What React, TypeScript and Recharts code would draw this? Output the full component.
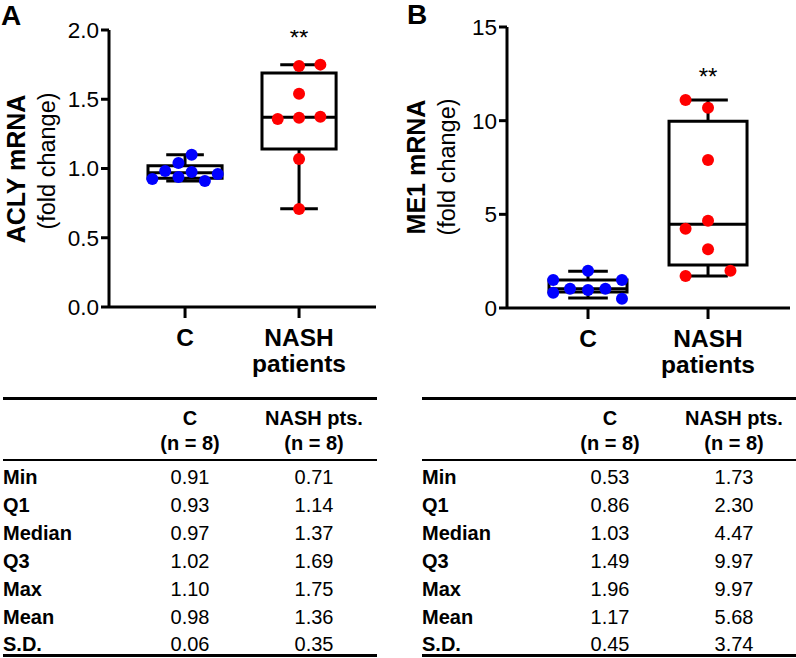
import React from 'react';
import { ComposedChart, XAxis, YAxis, Scatter, ReferenceArea, ReferenceLine } from 'recharts';

const FONT = '"Liberation Sans", Arial, Helvetica, sans-serif';

// ---------- data ----------
const categories = ['C', 'NASH patients'];

// Panel A – ACLY mRNA (fold change)
const aclyCValues = [0.924, 0.982, 1.04, 0.939, 1.10, 0.975, 0.91, 0.96];
const aclyCJitter = [-0.287, -0.174, -0.058, -0.058, 0.058, 0.058, 0.174, 0.287];
const aclyNValues = [1.74, 1.75, 1.54, 1.357, 1.367, 1.374, 1.069, 0.708];
const aclyNJitter = [0, 0.187, 0, -0.187, 0, 0.187, 0, 0];
const aclyBoxC = [0.91, 0.93, 0.97, 1.02, 1.10]; // min, q1, median, q3, max
const aclyBoxN = [0.71, 1.14, 1.37, 1.69, 1.75];
const aclyTicks = [0, 0.5, 1, 1.5, 2];
const aclySig = 1.98;

// Panel B – ME1 mRNA (fold change)
const me1CValues = [1.49, 0.82, 1.03, 1.99, 0.96, 1.03, 1.49, 0.5];
const me1CJitter = [-0.29, -0.29, -0.15, 0, 0, 0.145, 0.283, 0.283];
const me1NValues = [11.1, 10.69, 7.9, 4.66, 4.23, 3.13, 1.99, 1.71];
const me1NJitter = [-0.187, 0, 0, 0, -0.187, 0, 0.187, -0.187];
const me1BoxC = [0.53, 0.86, 1.03, 1.49, 1.96];
const me1BoxN = [1.71, 2.3, 4.47, 9.97, 11.1];
const me1Ticks = [0, 5, 10, 15];
const me1Sig = 12.6;

// Tables
const tableHeaderC = ['C', '(n = 8)'];
const tableHeaderN = ['NASH pts.', '(n = 8)'];
const tableRowLabels = ['Min', 'Q1', 'Median', 'Q3', 'Max', 'Mean', 'S.D.'];
const aclyTableC = ['0.91', '0.93', '0.97', '1.02', '1.10', '0.98', '0.06'];
const aclyTableN = ['0.71', '1.14', '1.37', '1.69', '1.75', '1.36', '0.35'];
const me1TableC = ['0.53', '0.86', '1.03', '1.49', '1.96', '1.17', '0.45'];
const me1TableN = ['1.73', '2.30', '4.47', '9.97', '9.97', '5.68', '3.74'];

// ---------- helpers ----------
const toPoints = (values: number[], jitter: number[], pos: number) =>
  values.map((v, i) => ({ x: pos + jitter[i], y: v }));

const BOX_HALF = 0.325;
const CAP_HALF = 0.165;
const LINE = { stroke: '#000', strokeWidth: 3 };

function renderBox(pos: number, box: number[], key: string) {
  const [mn, q1, med, q3, mx] = box;
  return [
    <ReferenceArea key={key + 'a'} x1={pos - BOX_HALF} x2={pos + BOX_HALF} y1={q1} y2={q3}
      fill="none" fillOpacity={0} stroke="#000" strokeWidth={3} ifOverflow="visible" />,
    <ReferenceLine key={key + 'm'} segment={[{ x: pos - BOX_HALF, y: med }, { x: pos + BOX_HALF, y: med }]} {...LINE} ifOverflow="visible" />,
    <ReferenceLine key={key + 'wu'} segment={[{ x: pos, y: q3 }, { x: pos, y: mx }]} {...LINE} ifOverflow="visible" />,
    <ReferenceLine key={key + 'cu'} segment={[{ x: pos - CAP_HALF, y: mx }, { x: pos + CAP_HALF, y: mx }]} {...LINE} ifOverflow="visible" />,
    <ReferenceLine key={key + 'wd'} segment={[{ x: pos, y: mn }, { x: pos, y: q1 }]} {...LINE} ifOverflow="visible" />,
    <ReferenceLine key={key + 'cd'} segment={[{ x: pos - CAP_HALF, y: mn }, { x: pos + CAP_HALF, y: mn }]} {...LINE} ifOverflow="visible" />,
  ];
}

const dotShape = (color: string) => (props: any) =>
  <circle cx={props.cx} cy={props.cy} r={6} fill={color} />;

const sigShape = (props: any) => (
  <text x={props.cx} y={props.cy + 13} textAnchor="middle" fontSize={24} fontFamily={FONT} fill="#000">**</text>
);

const XTick = (props: any) => {
  const { x, y, payload } = props;
  const label = categories[Math.round(payload.value) - 1] || '';
  const words = label === 'C' ? ['C'] : ['NASH', 'patients'];
  return (
    <g>
      {words.map((w, i) => (
        <text key={i} x={x} y={y + 26 + i * 26} textAnchor="middle" fontSize={24.5} fontWeight="bold" fontFamily={FONT} fill="#000">{w}</text>
      ))}
    </g>
  );
};

const AxisTitle = ({ bold, regular, boldY, regY }: any) => (
  <g>
    <text transform={`translate(25,${boldY}) rotate(-90)`} textAnchor="middle" fontSize={25} fontWeight="bold" fontFamily={FONT} fill="#000">{bold}</text>
    <text transform={`translate(55,${regY}) rotate(-90)`} textAnchor="middle" fontSize={23.5} fontFamily={FONT} fill="#000">{regular}</text>
  </g>
);

type PanelProps = {
  left: number; width: number; yWidth: number; top: number; bottom: number; right: number;
  xDomain: number[]; yDomain: number[]; ticks: number[]; fmt: (v: number) => string;
  cVals: number[]; cJit: number[]; nVals: number[]; nJit: number[];
  boxC: number[]; boxN: number[]; sig: number; bold: string; boldY: number; regY: number;
};

function Panel(p: PanelProps) {
  const H = 390;
  return (
    <div style={{ position: 'absolute', left: p.left, top: 0 }}>
      <ComposedChart width={p.width} height={H} margin={{ top: p.top, right: p.right, bottom: p.bottom, left: 0 }}>
        <XAxis dataKey="x" type="number" domain={p.xDomain} ticks={[1, 2]} allowDataOverflow
          height={60} tickSize={11} tick={<XTick />} axisLine={LINE} tickLine={LINE} />
        <YAxis dataKey="y" type="number" domain={p.yDomain} ticks={p.ticks} width={p.yWidth} allowDataOverflow
          tickFormatter={p.fmt} tickSize={8} axisLine={LINE} tickLine={LINE}
          tick={{ fill: '#000', fontSize: 22.5, fontFamily: FONT }}
          label={<AxisTitle bold={p.bold} regular="(fold change)" boldY={p.boldY} regY={p.regY} />} />
        {renderBox(1, p.boxC, 'c')}
        {renderBox(2, p.boxN, 'n')}
        <Scatter data={toPoints(p.cVals, p.cJit, 1)} shape={dotShape('#0000ff')} isAnimationActive={false} />
        <Scatter data={toPoints(p.nVals, p.nJit, 2)} shape={dotShape('#ff0000')} isAnimationActive={false} />
        <Scatter data={[{ x: 2, y: p.sig }]} shape={sigShape} isAnimationActive={false} />
      </ComposedChart>
    </div>
  );
}

function StatsTable({ x0, x1, cCol, nCol, cVals, nVals }: any) {
  const rowY = tableRowLabels.map((_, i) => 477 + i * 27.9);
  const cell = (text: string, cx: number, cy: number, bold: boolean, align: 'center' | 'left' = 'center', key?: any) => (
    <div key={key} style={{
      position: 'absolute', top: cy - 12, height: 24, lineHeight: '24px',
      left: align === 'center' ? cx - 70 : cx, width: 140,
      textAlign: align, fontSize: 20, fontWeight: bold ? 'bold' : 'normal', fontFamily: FONT, color: '#000', whiteSpace: 'nowrap',
    }}>{text}</div>
  );
  const hline = (y: number, t: number) => (
    <div style={{ position: 'absolute', left: x0, width: x1 - x0, top: y - t / 2, height: t, background: '#000' }} />
  );
  return (
    <>
      {hline(398, 3)}
      {cell(tableHeaderC[0], cCol, 418, true)}
      {cell(tableHeaderC[1], cCol, 443, true)}
      {cell(tableHeaderN[0], nCol, 418, true)}
      {cell(tableHeaderN[1], nCol, 443, true)}
      {hline(460, 2)}
      {tableRowLabels.map((l, i) => cell(l, x0, rowY[i], true, 'left', 'l' + i))}
      {cVals.map((v: string, i: number) => cell(v, cCol, rowY[i], false, 'center', 'c' + i))}
      {nVals.map((v: string, i: number) => cell(v, nCol, rowY[i], false, 'center', 'n' + i))}
      {hline(655, 3)}
    </>
  );
}

export default function App() {
  return (
    <div style={{ position: 'absolute', left: 0, top: 0, width: 796, height: 658, background: '#fff', overflow: 'hidden', fontFamily: FONT }}>
      <Panel left={0} width={400} yWidth={109} top={30} bottom={23} right={24}
        xDomain={[0.333, 2.675]} yDomain={[0, 2]} ticks={aclyTicks} fmt={(v) => v.toFixed(1)}
        cVals={aclyCValues} cJit={aclyCJitter} nVals={aclyNValues} nJit={aclyNJitter}
        boxC={aclyBoxC} boxN={aclyBoxN} sig={aclySig} bold="ACLY mRNA" boldY={169} regY={161} />
      <Panel left={400} width={396} yWidth={107} top={27} bottom={22} right={6}
        xDomain={[0.325, 2.683]} yDomain={[0, 15]} ticks={me1Ticks} fmt={(v) => String(v)}
        cVals={me1CValues} cJit={me1CJitter} nVals={me1NValues} nJit={me1NJitter}
        boxC={me1BoxC} boxN={me1BoxN} sig={me1Sig} bold="ME1 mRNA" boldY={167} regY={167} />
      <div style={{ position: 'absolute', left: 1, top: 2, fontSize: 28, fontWeight: 'bold', lineHeight: '28px' }}>A</div>
      <div style={{ position: 'absolute', left: 407, top: 1, fontSize: 28, fontWeight: 'bold', lineHeight: '28px' }}>B</div>
      <StatsTable x0={3} x1={377} cCol={190} nCol={314} cVals={aclyTableC} nVals={aclyTableN} />
      <StatsTable x0={422} x1={796} cCol={610} nCol={734} cVals={me1TableC} nVals={me1TableN} />
    </div>
  );
}
